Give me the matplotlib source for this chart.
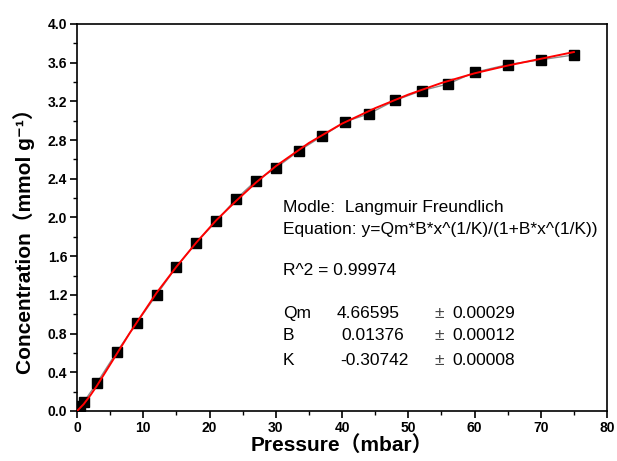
import matplotlib
matplotlib.use("Agg")
import matplotlib.pyplot as plt
from matplotlib.ticker import MultipleLocator, FormatStrFormatter

plt.rcParams["font.family"] = ["Liberation Sans", "DejaVu Sans", "Noto Sans CJK SC"]

# measured isotherm points
pressure = [0.5, 1, 3, 6, 9, 12, 15, 18, 21, 24, 27, 30, 33.5, 37, 40.5, 44,
            48, 52, 56, 60, 65, 70, 75]
conc = [0.05, 0.09, 0.29, 0.61, 0.91, 1.20, 1.49, 1.74, 1.96, 2.19, 2.38, 2.51,
        2.69, 2.84, 2.99, 3.07, 3.21, 3.31, 3.38, 3.50, 3.58, 3.63, 3.68]

# fitted curve
fit_x = [0, 1, 2, 3, 5, 8, 12, 15, 18, 21, 24, 27, 30, 35, 40, 45, 50, 55,
         60, 65, 70, 75]
fit_y = [0, 0.07, 0.16, 0.26, 0.48, 0.81, 1.22, 1.49, 1.74, 1.97, 2.17, 2.36,
         2.53, 2.77, 2.97, 3.13, 3.27, 3.39, 3.49, 3.57, 3.64, 3.71]

param_names = ["Qm", "B", "K"]
param_values = ["4.66595", "0.01376", "-0.30742"]
param_errors = ["0.00029", "0.00012", "0.00008"]

fig = plt.figure(figsize=(6.17, 4.61), dpi=100)
ax = fig.add_axes([0.1248, 0.1085, 0.859, 0.8395])

ax.plot(pressure, conc, "-", color="#8c8c8c", lw=1.0, zorder=2)
ax.plot(pressure, conc, "s", color="black", ms=7, zorder=3)
ax.plot(fit_x, fit_y, "-", color="red", lw=1.4, zorder=4)

ax.set_xlim(0, 80)
ax.set_ylim(0, 4.0)
ax.xaxis.set_major_locator(MultipleLocator(10))
ax.xaxis.set_minor_locator(MultipleLocator(5))
ax.yaxis.set_major_locator(MultipleLocator(0.4))
ax.yaxis.set_minor_locator(MultipleLocator(0.2))
ax.yaxis.set_major_formatter(FormatStrFormatter("%.1f"))
ax.tick_params(which="major", direction="out", length=5, width=1.2,
               labelsize=10, pad=2)
ax.tick_params(which="minor", direction="out", length=3, width=1.0)
for lab in ax.get_xticklabels() + ax.get_yticklabels():
    lab.set_fontweight("bold")
for sp in ax.spines.values():
    sp.set_linewidth(1.2)

ax.set_xlabel("Pressure\uff08mbar\uff09", fontsize=15, fontweight="bold")
ax.set_ylabel("Concentration\uff08mmol g\u207b\u00b9\uff09", fontsize=15,
              fontweight="bold")
ax.xaxis.set_label_coords(0.499, -0.063)
ax.yaxis.set_label_coords(-0.08, 0.452)

tx = 31.1
fs = 12.5
ax.text(tx, 2.10, "Modle:  Langmuir Freundlich", fontsize=fs, va="center")
ax.text(tx, 1.88, "Equation: y=Qm*B*x^(1/K)/(1+B*x^(1/K))", fontsize=fs,
        va="center")
ax.text(tx, 1.45, "R^2 = 0.99974", fontsize=fs, va="center")

row_y = [1.01, 0.775, 0.52]
val_x = [39.2, 39.95, 39.7]
for name, val, err, yy, vx in zip(param_names, param_values, param_errors,
                                  row_y, val_x):
    ax.text(tx, yy, name, fontsize=fs, va="center")
    ax.text(vx, yy, val, fontsize=fs, va="center")
    ax.text(53.9, yy, "\u00b1", fontsize=fs, va="center", color="#444444")
    ax.text(56.6, yy, err, fontsize=fs, va="center")

fig.savefig("out.png", dpi=100)
